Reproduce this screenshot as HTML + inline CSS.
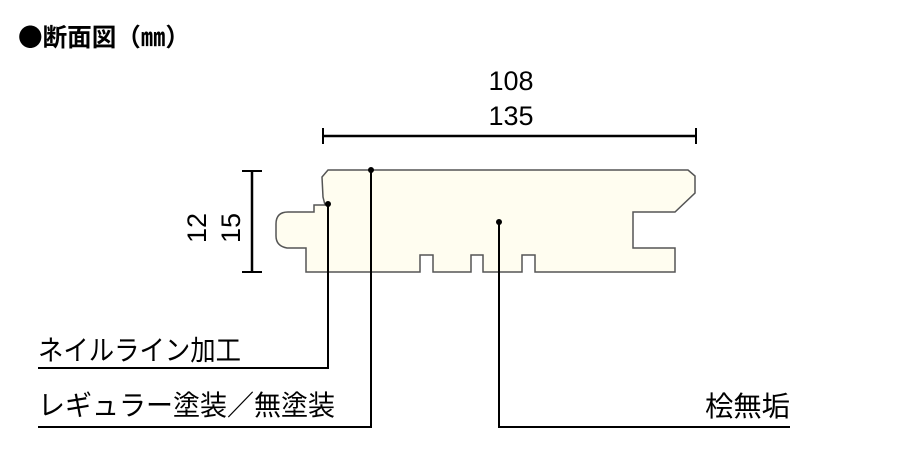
<!DOCTYPE html>
<html><head><meta charset="utf-8"><style>
body{margin:0;background:#fff;width:914px;height:448px;overflow:hidden}
svg text{font-family:"Liberation Sans","Noto Sans CJK JP",sans-serif}
</style></head><body>
<svg width="914" height="448" viewBox="0 0 914 448" xmlns="http://www.w3.org/2000/svg">
<text x="18" y="46" font-size="25" font-weight="bold" fill="#000" textLength="172" lengthAdjust="spacingAndGlyphs" style="font-family:'Noto Sans CJK JP',sans-serif">●断面図（㎜）</text>
<text x="511" y="90" font-size="27" text-anchor="middle">108</text>
<text x="511" y="125" font-size="27" text-anchor="middle">135</text>
<line x1="323" y1="136" x2="696" y2="136" stroke="#000" stroke-width="2.5"/>
<line x1="323" y1="128" x2="323" y2="144" stroke="#000" stroke-width="2"/>
<line x1="696" y1="128" x2="696" y2="144" stroke="#000" stroke-width="2"/>
<line x1="252" y1="171" x2="252" y2="272" stroke="#000" stroke-width="2.5"/>
<line x1="242" y1="171" x2="262" y2="171" stroke="#000" stroke-width="2"/>
<line x1="242" y1="272" x2="262" y2="272" stroke="#000" stroke-width="2"/>
<text transform="translate(206,228) rotate(-90)" font-size="27" text-anchor="middle">12</text>
<text transform="translate(240,228) rotate(-90)" font-size="27" text-anchor="middle">15</text>
<path d="M328,170 L688,170 L695,176 L695,193 L675,212 L633,212 L633,248 L675,248 L675,272 L535,272 L535,255 L522,255 L522,272 L483,272 L483,255 L471,255 L471,272 L433,272 L433,255 L420,255 L420,272 L306,272 L306,248 L287,248 Q276,246 276,236 L276,224 Q276,212 288,212 L314,212 L314,205 L325,205 L323,197 L322,177 Z" fill="#fffdf0" stroke="#555" stroke-width="1.5"/>
<g stroke="#000" stroke-width="2" fill="none">
<polyline points="328,204 328,368 38,368"/>
<polyline points="371,170 371,427 38,427"/>
<polyline points="499,222 499,427 790,427"/>
</g>
<circle cx="328" cy="204" r="3"/><circle cx="371" cy="170" r="3"/><circle cx="499" cy="222" r="3"/>
<text x="38" y="360" font-size="28" textLength="203" lengthAdjust="spacingAndGlyphs">ネイルライン加工</text>
<text x="38" y="415" font-size="28" textLength="297" lengthAdjust="spacingAndGlyphs">レギュラー塗装／無塗装</text>
<text x="705" y="416" font-size="28" textLength="85" lengthAdjust="spacingAndGlyphs">桧無垢</text>
</svg>
</body></html>
